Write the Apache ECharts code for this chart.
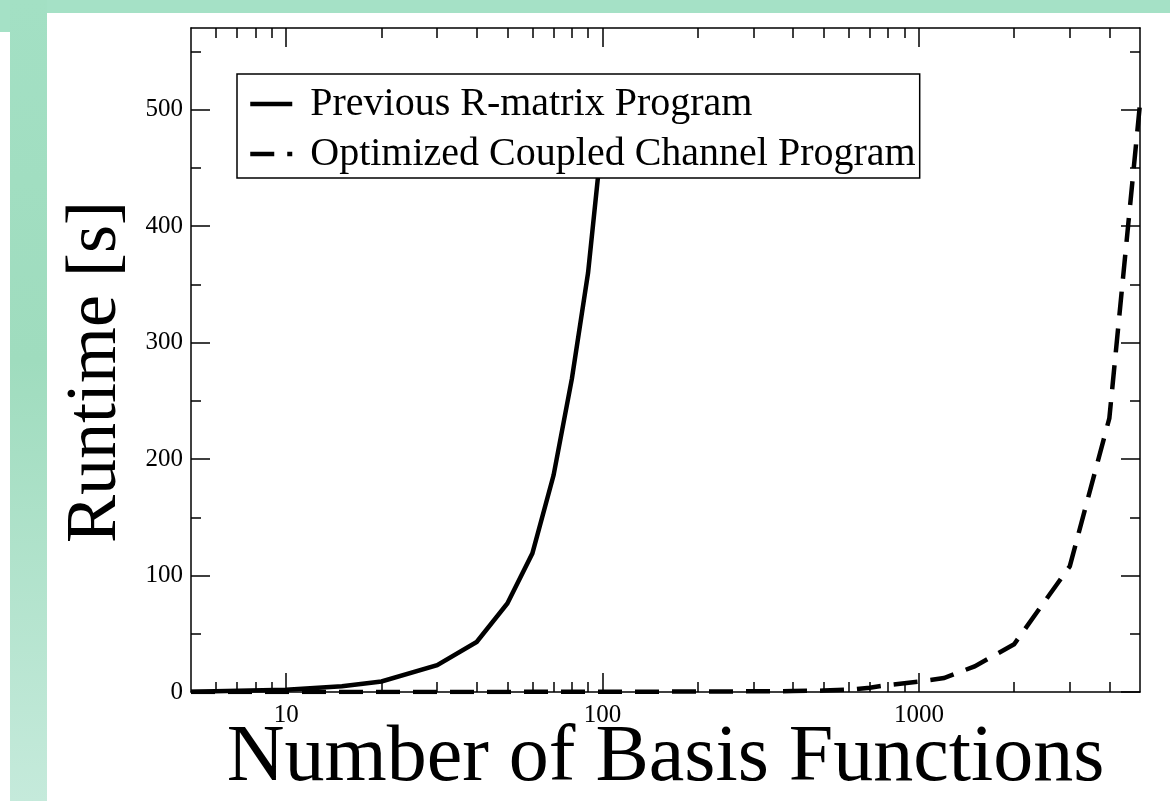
<!DOCTYPE html>
<html>
<head>
<meta charset="utf-8">
<script src="https://cdn.jsdelivr.net/npm/echarts@6/dist/echarts.min.js"></script>
<style>
  html, body { margin: 0; padding: 0; background: #fff; }
  #chart { width: 1170px; height: 801px; }
</style>
</head>
<body>
<div id="chart"></div>
<script>
// Runtime versus basis size for the two programs
const seriesNames = ['Previous R-matrix Program', 'Optimized Coupled Channel Program'];

const basisPrevious = [5, 10, 15, 20, 30, 40, 50, 60, 70, 80, 90, 100];
const runtimePrevious = [0.3, 2, 5, 9, 23, 43, 76, 119, 186, 269, 360, 480];

const basisOptimized = [5, 10, 20, 50, 100, 200, 300, 400, 500, 600, 700, 800, 900, 1000, 1200, 1500, 2000, 3000, 4000, 5000];
const runtimeOptimized = [0, 0, 0.1, 0.1, 0.2, 0.4, 0.6, 0.8, 1.2, 2, 3.7, 6, 7.5, 9, 12, 22, 41, 108, 235, 505];

// Axis ticks and labels
const xMajorTicks = [10, 100, 1000];
const xMinorTicks = [6, 7, 8, 9, 20, 30, 40, 50, 60, 70, 80, 90, 200, 300, 400, 500, 600, 700, 800, 900, 2000, 3000, 4000];
const yMajorTicks = [0, 100, 200, 300, 400, 500];
const yMinorTicks = [50, 150, 250, 350, 450, 550];
const xRange = [5, 5000];
const yRange = [0, 570];

const SERIF = "'Liberation Serif', 'DejaVu Serif', serif";
const INK = '#000';
const plotRect = { left: 191, top: 28, right: 30, bottom: 109, containLabel: false, outerBoundsMode: 'none' };

function xAxisDef(gridIndex, position, ticks, tickLen, showLine, labels, extra) {
  return Object.assign({
    type: 'log',
    logBase: 10,
    gridIndex: gridIndex,
    position: position,
    min: xRange[0],
    max: xRange[1],
    axisLine: { show: showLine, onZero: false, lineStyle: { color: INK, width: 1.5 } },
    axisTick: { show: true, inside: true, length: tickLen, customValues: ticks,
                lineStyle: { color: INK, width: 1.5 } },
    axisLabel: labels ? { show: true, customValues: labels, margin: 11,
                color: INK, fontFamily: SERIF, fontSize: 25,
                formatter: v => String(Math.round(v)) } : { show: false },
    splitLine: { show: false },
    minorTick: { show: false },
    minorSplitLine: { show: false }
  }, extra || {});
}

function yAxisDef(gridIndex, position, ticks, tickLen, showLine, labels, extra) {
  return Object.assign({
    type: 'value',
    gridIndex: gridIndex,
    position: position,
    min: yRange[0],
    max: yRange[1],
    axisLine: { show: showLine, onZero: false, lineStyle: { color: INK, width: 1.5 } },
    axisTick: { show: true, inside: true, length: tickLen, customValues: ticks,
                lineStyle: { color: INK, width: 1.5 } },
    axisLabel: labels ? { show: true, customValues: labels, margin: 8,
                color: INK, fontFamily: SERIF, fontSize: 25,
                formatter: v => String(Math.round(v)) } : { show: false },
    splitLine: { show: false }
  }, extra || {});
}

const chart = echarts.init(document.getElementById('chart'), null, { renderer: 'canvas' });

chart.setOption({
  animation: false,
  backgroundColor: '#fff',
  graphic: [
    { type: 'rect', z: -10, shape: { x: 0, y: 0, width: 1170, height: 13 },
      style: { fill: '#a5e1c6' } },
    { type: 'rect', z: -10, shape: { x: 0, y: 0, width: 10, height: 32 },
      style: { fill: '#a5e1c6' } },
    { type: 'rect', z: -10, shape: { x: 10, y: 0, width: 37, height: 801 },
      style: { fill: new echarts.graphic.LinearGradient(0, 0, 0, 1, [
        { offset: 0, color: '#a3e0c4' },
        { offset: 0.45, color: '#9fdcbe' },
        { offset: 1, color: '#c5eadb' }
      ]) } }
  ],
  // grid 0 carries the major ticks, labels and frame; grid 1 the minor ticks
  grid: [Object.assign({}, plotRect), Object.assign({}, plotRect)],
  legend: {
    show: true,
    orient: 'vertical',
    left: 237,
    top: 74,
    padding: [10, 4, 4, 11],
    itemGap: 10,
    itemWidth: 42,
    itemHeight: 30,
    backgroundColor: '#fff',
    borderColor: INK,
    borderWidth: 1.5,
    borderRadius: 0,
    z: 10,
    selectedMode: false,
    itemStyle: { color: 'rgba(0,0,0,0)', borderWidth: 0, opacity: 0 },
    lineStyle: { width: 4.5 },
    textStyle: { color: INK, fontFamily: SERIF, fontSize: 40, lineHeight: 40,
                 padding: [0, 0, 0, 13] },
    data: seriesNames
  },
  xAxis: [
    xAxisDef(0, 'bottom', xMajorTicks, 19, true, xMajorTicks, {
      name: 'Number of Basis Functions',
      nameLocation: 'middle',
      nameGap: 27,
      nameMoveOverlap: false,
      nameTextStyle: { color: INK, fontFamily: SERIF, fontSize: 80 }
    }),
    xAxisDef(0, 'top', xMajorTicks, 19, true, null),
    xAxisDef(1, 'bottom', xMinorTicks, 10, false, null),
    xAxisDef(1, 'top', xMinorTicks, 10, false, null)
  ],
  yAxis: [
    yAxisDef(0, 'left', yMajorTicks, 19, true, yMajorTicks, {
      name: 'Runtime [s]',
      nameLocation: 'middle',
      nameGap: 59,
      nameMoveOverlap: false,
      nameTextStyle: { color: INK, fontFamily: SERIF, fontSize: 72, padding: [0, 24, 0, 0] }
    }),
    yAxisDef(0, 'right', yMajorTicks, 19, true, null),
    yAxisDef(1, 'left', yMinorTicks, 10, false, null),
    yAxisDef(1, 'right', yMinorTicks, 10, false, null)
  ],
  series: [
    {
      name: seriesNames[0],
      type: 'line',
      xAxisIndex: 0,
      yAxisIndex: 0,
      symbol: 'none',
      showSymbol: false,
      clip: true,
      lineStyle: { color: INK, width: 4.5, type: 'solid', cap: 'butt', join: 'miter' },
      itemStyle: { color: INK },
      data: basisPrevious.map((n, i) => [n, runtimePrevious[i]])
    },
    {
      name: seriesNames[1],
      type: 'line',
      xAxisIndex: 0,
      yAxisIndex: 0,
      symbol: 'none',
      showSymbol: false,
      clip: true,
      lineStyle: { color: INK, width: 4.5, type: [24, 13], cap: 'butt', join: 'miter' },
      itemStyle: { color: INK },
      data: basisOptimized.map((n, i) => [n, runtimeOptimized[i]])
    }
  ]
});
</script>
</body>
</html>
